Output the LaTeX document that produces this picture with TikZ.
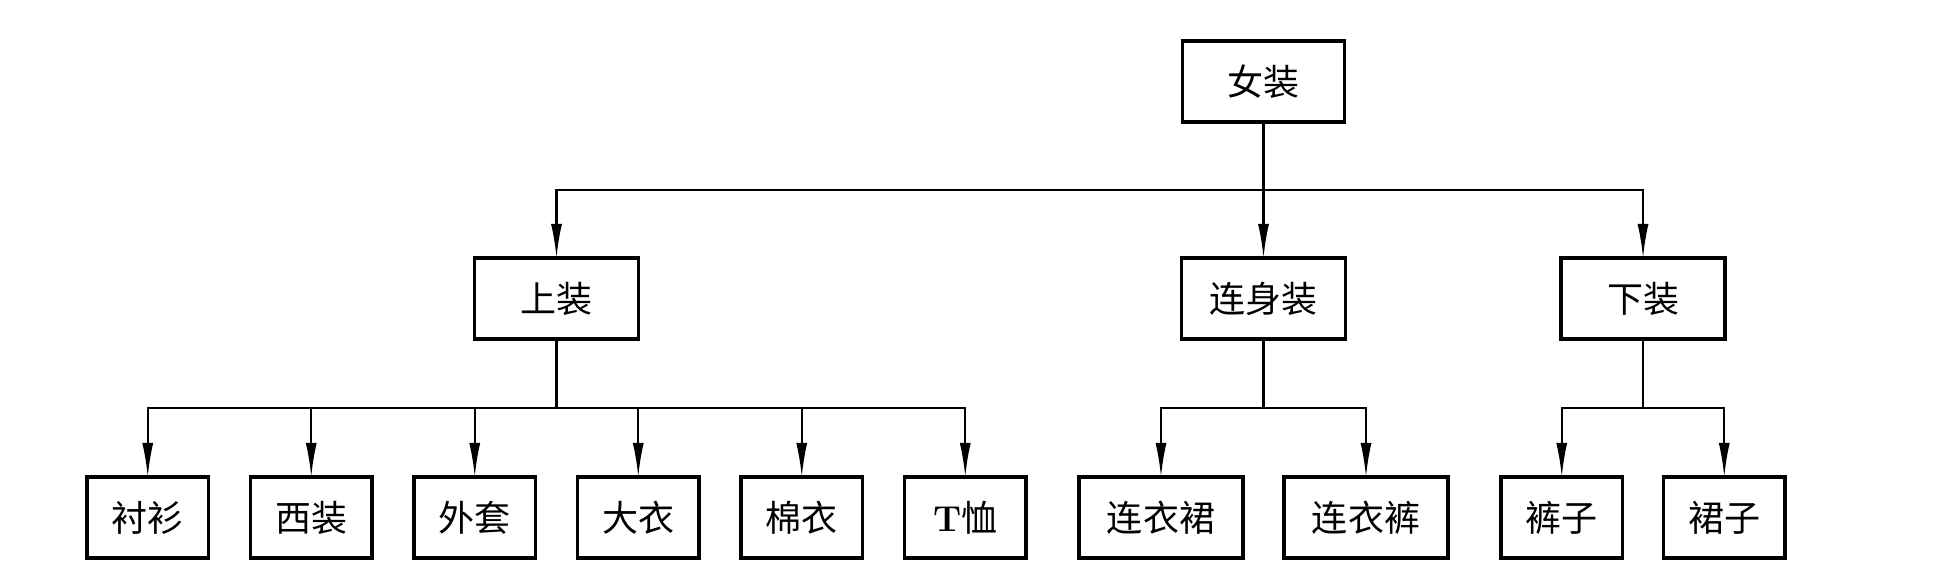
\documentclass[tikz,border=0pt]{standalone}
\usepackage{fontspec}
\newfontfamily\cjk{Noto Sans CJK SC}
\usepackage{tikz}
\usetikzlibrary{positioning, arrows.meta, calc}
\tikzset{
	box/.style = {rectangle, minimum width=2.43cm, minimum height=1.62cm, inner sep=0pt, outer sep=0pt, text centered, draw=black, line width=2pt, font=\cjk\fontsize{20.5}{24}\selectfont},
	widebox/.style = {box, minimum width=3.28cm},
	link/.style = {line width=1.2pt, -{Latex[length=0.68cm, width=0.22cm]}}
}

\begin{document}
\begin{tikzpicture}
		\useasboundingbox (0,0) rectangle (39.04,11.7);
		% bottom row
		\node (Shirt)[box] at (2.955,1.35){衬衫};
		\node (Suit)[box, right = 0.84cm of Shirt]{西装};
		\node (Jacket)[box, right = 0.84cm of Suit]{外套};
		\node (Coat)[box, right = 0.84cm of Jacket]{大衣};
		\node (Padded)[box, right = 0.84cm of Coat]{棉衣};
		\node (Tee)[box, right = 0.84cm of Padded]{{\rmfamily\bfseries T}恤};
		\node (Dress)[widebox, right = 1.06cm of Tee]{连衣裙};
		\node (Jumpsuit)[widebox, right = 0.82cm of Dress]{连衣裤};
		\node (Trousers)[box, right = 1.06cm of Jumpsuit]{裤子};
		\node (Skirt)[box, right = 0.82cm of Trousers]{裙子};
		% middle row
		\coordinate (upper bus) at ($(Shirt.north)!0.5!(Tee.north)$);
		\coordinate (onepiece bus) at ($(Dress.north)!0.5!(Jumpsuit.north)$);
		\coordinate (lower bus) at ($(Trousers.north)!0.5!(Skirt.north)$);
		\node (Upper)[widebox, above = 2.76cm of upper bus]{上装};
		\node (Onepiece)[widebox, above = 2.76cm of onepiece bus]{连身装};
		\node (Lower)[widebox, above = 2.76cm of lower bus]{下装};
		% top
		\node (Women)[widebox, minimum width=3.24cm, above = 2.72cm of Onepiece]{女装};

		\draw [link] (Women) -- (Onepiece);
		\draw [link] (Women.south) -- ++(0,-1.36) -| (Upper);
		\draw [link] (Women.south) -- ++(0,-1.36) -| (Lower);

		\foreach \child in {Shirt, Suit, Jacket, Coat, Padded, Tee}
			\draw [link] (Upper.south) -- ++(0,-1.38) -| (\child);
		\foreach \child in {Dress, Jumpsuit}
			\draw [link] (Onepiece.south) -- ++(0,-1.38) -| (\child);
		\foreach \child in {Trousers, Skirt}
			\draw [link] (Lower.south) -- ++(0,-1.38) -| (\child);
	\end{tikzpicture}
\end{document}
